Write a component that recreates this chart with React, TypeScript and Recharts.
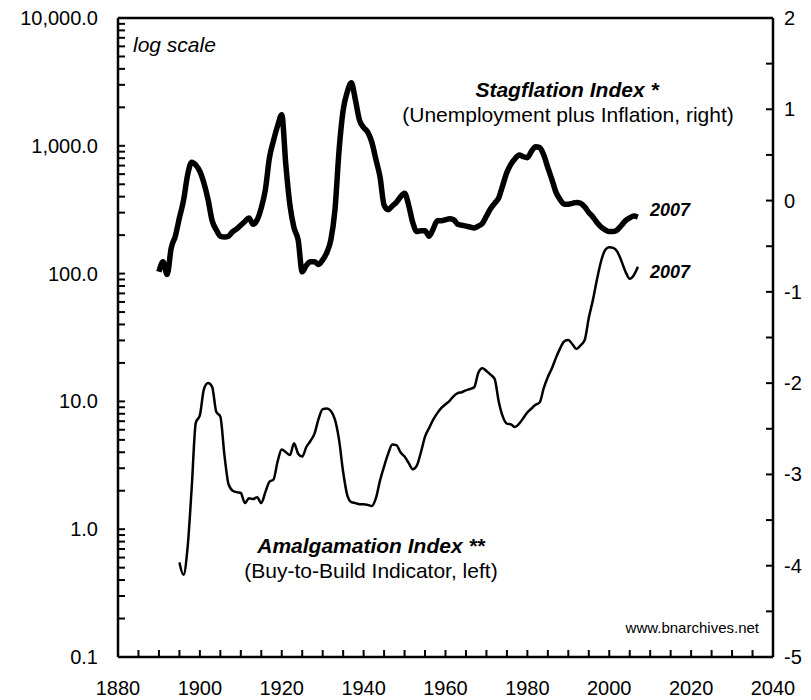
import React from 'react';
import { LineChart, Line, XAxis, YAxis, ReferenceLine } from 'recharts';

// Stagflation Index (right axis), one value per year from 1890
const STAG_FIRST_YEAR = 1890;
const STAG_VALUES = [
  -0.78, -0.67, -0.81, -0.52, -0.39, -0.19, 0.0, 0.28, 0.42, 0.39,
  0.32, 0.19, 0.01, -0.22, -0.32, -0.39, -0.4, -0.39, -0.34, -0.31,
  -0.27, -0.23, -0.19, -0.26, -0.21, -0.08, 0.12, 0.47, 0.66, 0.82,
  0.94, 0.39, -0.05, -0.3, -0.43, -0.78, -0.71, -0.67, -0.67, -0.7,
  -0.65, -0.57, -0.43, -0.1, 0.55, 0.99, 1.19, 1.29, 1.1, 0.88,
  0.8, 0.75, 0.64, 0.45, 0.26, -0.05, -0.1, -0.06, -0.02, 0.04,
  0.08, -0.05, -0.24, -0.34, -0.33, -0.33, -0.39, -0.31, -0.22, -0.22,
  -0.21, -0.2, -0.21, -0.26, -0.27, -0.28, -0.29, -0.3, -0.28, -0.25,
  -0.17, -0.09, -0.03, 0.03, 0.17, 0.31, 0.4, 0.46, 0.5, 0.48,
  0.47, 0.54, 0.59, 0.58, 0.5, 0.36, 0.23, 0.09, 0.01, -0.04,
  -0.04, -0.03, -0.02, -0.03, -0.07, -0.13, -0.18, -0.24, -0.29, -0.32,
  -0.34, -0.34, -0.32, -0.27, -0.22, -0.19, -0.17, -0.18,
];

// Amalgamation Index (left log axis), one value per year from 1895
const AMALG_FIRST_YEAR = 1895;
const AMALG_VALUES = [
  0.55, 0.44, 0.72, 2.1, 6.8,
  7.8, 12.5, 13.9, 13.0, 8.3, 7.6, 3.8, 2.25, 2.0, 1.95,
  1.92, 1.6, 1.75, 1.72, 1.78, 1.6, 1.95, 2.35, 2.45, 3.4,
  4.2, 4.0, 3.8, 4.7, 3.9, 3.7, 4.4, 4.9, 5.6, 7.3,
  8.7, 8.8, 8.4, 7.2, 5.0, 2.8, 1.85, 1.63, 1.6, 1.57,
  1.57, 1.55, 1.52, 1.75, 2.4, 3.1, 3.9, 4.6, 4.55, 4.0,
  3.7, 3.3, 2.95, 3.15, 4.0, 5.3, 6.2, 7.2, 8.1, 8.9,
  9.5, 10.1, 11.0, 11.6, 11.8, 12.2, 12.5, 12.9, 16.7, 18.2,
  17.3, 16.2, 15.0, 10.0, 7.6, 6.7, 6.6, 6.3, 6.7, 7.4,
  8.2, 8.8, 9.4, 9.8, 12.7, 15.5, 18.2, 22, 26, 29.5,
  30.2, 28, 25.7, 27.5, 30.2, 45, 62, 90, 125, 153,
  161, 159, 148, 125, 103, 91, 97, 113,
];

const YEAR_TICKS = [
  1880, 1885, 1890, 1895, 1900, 1905, 1910, 1915, 1920, 1925, 1930,
  1935, 1940, 1945, 1950, 1955, 1960, 1965, 1970, 1975, 1980, 1985,
  1990, 1995, 2000, 2005, 2010, 2015, 2020, 2025, 2030, 2035, 2040,
];
const YEAR_LABELS = [1880, 1900, 1920, 1940, 1960, 1980, 2000, 2020, 2040];

const LEFT_LABELS = [0.1, 1, 10, 100, 1000, 10000];
const LEFT_TICKS = LEFT_LABELS.slice(0, -1)
  .flatMap((d) => [1, 2, 3, 4, 5, 6, 7, 8, 9].map((m) => d * m))
  .concat(10000);

const RIGHT_TICKS = [-5, -4.5, -4, -3.5, -3, -2.5, -2, -1.5, -1, -0.5, 0, 0.5, 1, 1.5, 2];
const RIGHT_LABELS = [-5, -4, -3, -2, -1, 0, 1, 2];

const stagData = STAG_VALUES.map((value, i) => ({ year: STAG_FIRST_YEAR + i, value }));
const amalgData = AMALG_VALUES.map((value, i) => ({ year: AMALG_FIRST_YEAR + i, value }));

const FONT = '"Liberation Sans", Arial, sans-serif';
const axisLine = { stroke: '#000', strokeWidth: 2.5 };

// plot frame edges (chart is placed at the page origin)
const PLOT_LEFT = 118;
const PLOT_RIGHT = 773;
const PLOT_BOTTOM = 657;
const TICK_LEN = 7;

const formatLeft = (v: number) => {
  const hit = LEFT_LABELS.find((l) => Math.abs(l - v) < 1e-9);
  return hit === undefined
    ? ''
    : hit.toLocaleString('en-US', { minimumFractionDigits: 1, maximumFractionDigits: 1 });
};

// ticks point into the plot, so draw line + label ourselves
const XTick = (props: any) => {
  const x = props.payload.coordinate;
  const v = props.payload.value;
  return (
    <g>
      <line x1={x} x2={x} y1={PLOT_BOTTOM} y2={PLOT_BOTTOM - TICK_LEN} stroke="#000" strokeWidth={2} />
      {YEAR_LABELS.includes(v) && (
        <text x={x} y={PLOT_BOTTOM + 38} textAnchor="middle" fontSize={20} fontFamily={FONT} fill="#000">
          {v}
        </text>
      )}
    </g>
  );
};

const LeftTick = (props: any) => {
  const y = props.payload.coordinate;
  const label = formatLeft(props.payload.value);
  return (
    <g>
      <line x1={PLOT_LEFT} x2={PLOT_LEFT + TICK_LEN} y1={y} y2={y} stroke="#000" strokeWidth={2} />
      {label && (
        <text x={98} y={y + 7} textAnchor="end" fontSize={20} fontFamily={FONT} fill="#000">
          {label}
        </text>
      )}
    </g>
  );
};

const RightTick = (props: any) => {
  const y = props.payload.coordinate;
  const v = props.payload.value;
  return (
    <g>
      <line x1={PLOT_RIGHT} x2={PLOT_RIGHT - TICK_LEN} y1={y} y2={y} stroke="#000" strokeWidth={2} />
      {RIGHT_LABELS.includes(v) && (
        <text x={784} y={y + 7} textAnchor="start" fontSize={20} fontFamily={FONT} fill="#000">
          {v}
        </text>
      )}
    </g>
  );
};

export default function App() {
  return (
    <div style={{ position: 'absolute', left: 0, top: 0, width: 811, height: 700, background: '#fff' }}>
      <LineChart width={811} height={700} margin={{ top: 18, right: 0, bottom: 0, left: 0 }}>
        <XAxis
          dataKey="year"
          type="number"
          domain={[1880, 2040]}
          allowDataOverflow
          ticks={YEAR_TICKS}
          interval={0}
          height={43}
          tickSize={0}
          tickMargin={0}
          tick={<XTick />}
          axisLine={axisLine}
          tickLine={false}
        />
        <YAxis
          yAxisId="left"
          orientation="left"
          scale="log"
          domain={[0.1, 10000]}
          allowDataOverflow
          ticks={LEFT_TICKS}
          interval={0}
          width={118}
          tickSize={0}
          tickMargin={0}
          tick={<LeftTick />}
          axisLine={axisLine}
          tickLine={false}
        />
        <YAxis
          yAxisId="right"
          orientation="right"
          type="number"
          domain={[-5, 2]}
          allowDataOverflow
          ticks={RIGHT_TICKS}
          interval={0}
          width={38}
          tickSize={0}
          tickMargin={0}
          tick={<RightTick />}
          axisLine={axisLine}
          tickLine={false}
        />
        <ReferenceLine yAxisId="left" y={10000} stroke="#000" strokeWidth={2.5} />
        <Line
          data={stagData}
          dataKey="value"
          yAxisId="right"
          type="monotone"
          stroke="#000"
          strokeWidth={5.5}
          strokeLinejoin="round"
          dot={false}
          isAnimationActive={false}
        />
        <Line
          data={amalgData}
          dataKey="value"
          yAxisId="left"
          type="monotone"
          stroke="#000"
          strokeWidth={2.5}
          strokeLinejoin="round"
          dot={false}
          isAnimationActive={false}
        />
      </LineChart>
      <svg
        width={811}
        height={700}
        style={{ position: 'absolute', left: 0, top: 0, pointerEvents: 'none' }}
        fontFamily={FONT}
        fill="#000"
      >
        <text x={133} y={52} fontSize={21} fontStyle="italic">log scale</text>
        <text x={567} y={97} fontSize={21} fontStyle="italic" fontWeight="bold" textAnchor="middle">
          Stagflation Index *
        </text>
        <text x={568} y={122} fontSize={21} textAnchor="middle">
          (Unemployment plus Inflation, right)
        </text>
        <text x={650} y={216} fontSize={18} fontStyle="italic" fontWeight="bold">2007</text>
        <text x={650} y={278} fontSize={18} fontStyle="italic" fontWeight="bold">2007</text>
        <text x={371} y={553} fontSize={21} fontStyle="italic" fontWeight="bold" textAnchor="middle">
          Amalgamation Index **
        </text>
        <text x={371} y={578} fontSize={21} textAnchor="middle">
          (Buy-to-Build Indicator, left)
        </text>
        <text x={759} y={633} fontSize={15} textAnchor="end">www.bnarchives.net</text>
      </svg>
    </div>
  );
}
